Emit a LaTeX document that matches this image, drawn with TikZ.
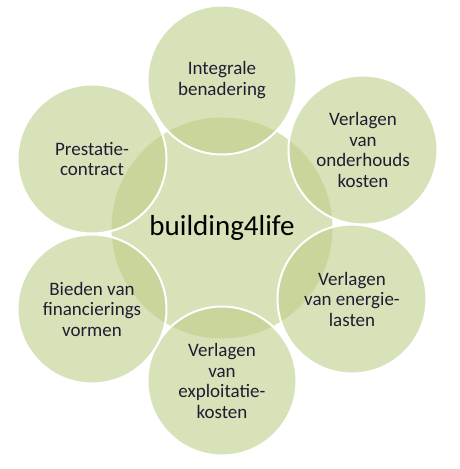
\documentclass[tikz,border=0pt]{standalone}
\usepackage{fontspec}
\setmainfont{Carlito}
\usetikzlibrary{positioning}
\definecolor{sage}{RGB}{189,206,135}
\definecolor{ink}{RGB}{30,30,50}
\tikzset{
  hub/.style={circle,fill=sage,fill opacity=0.59,text opacity=1,minimum size=221pt,
    inner sep=0pt,text=black,font=\fontsize{29}{34}\selectfont},
  petal/.style={circle,fill=sage,fill opacity=0.59,draw=white,draw opacity=1,line width=2pt,
    text opacity=1,minimum size=149pt,inner sep=0pt,align=center,text=ink,
    font=\fontsize{19}{20.5}\selectfont},
}

\begin{document}
\begin{tikzpicture}[x=1pt,y=-1pt]
  \useasboundingbox[fill=white] (0,0) rectangle (460,469);
  \node[hub] (core) at (222,228) {building4life};
  \foreach \n/\x/\y/\t in {top/222/80/{Integrale\\benadering},
      upright/363/150/{Verlagen\\van\\onderhouds\\kosten},
      lowright/352/299/{Verlagen\\van energie-\\lasten},
      bottom/222/381/{Verlagen\\van\\exploitatie-\\kosten},
      lowleft/92/309/{Bieden van\\financierings\\vormen},
      upleft/92/159/{Prestatie-\\contract}}
    \node[petal] (\n) at (\x,\y) {\t};
\end{tikzpicture}
\end{document}
